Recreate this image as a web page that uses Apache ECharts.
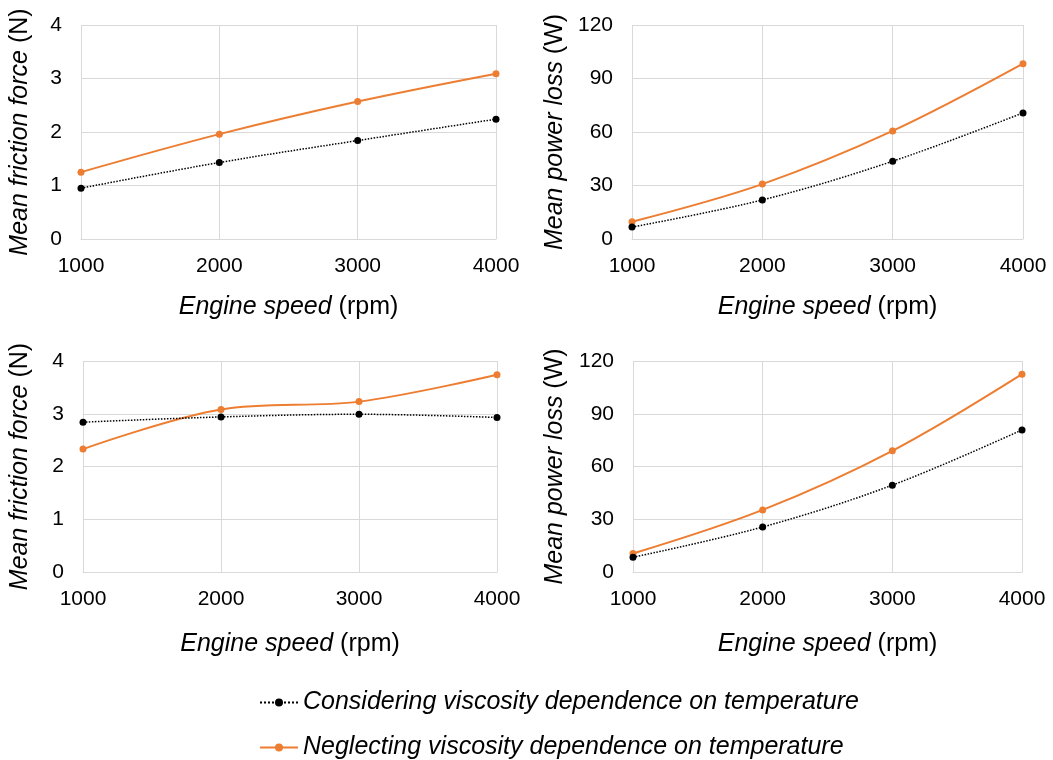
<!DOCTYPE html>
<html>
<head>
<meta charset="utf-8">
<script src="https://cdn.jsdelivr.net/npm/echarts@6/dist/echarts.min.js"></script>
<style>
  html, body { margin: 0; padding: 0; background: #fff; }
  #main { width: 1053px; height: 760px; }
</style>
</head>
<body>
<div id="main"></div>
<script>
var speeds = [1000, 2000, 3000, 4000];

// top row
var forceConsTop = [0.95, 1.43, 1.84, 2.24];
var forceNegTop = [1.25, 1.96, 2.57, 3.09];
var powerConsTop = [6.7, 21.9, 43.6, 70.7];
var powerNegTop = [9.7, 30.8, 60.6, 98.3];

// bottom row
var forceConsBot = [2.84, 2.94, 2.99, 2.93];
var forceNegBot = [2.33, 3.08, 3.23, 3.74];
var powerConsBot = [8.4, 25.6, 49.4, 80.8];
var powerNegBot = [10.5, 35.3, 68.9, 112.5];

var consName = 'Considering viscosity dependence on temperature';
var negName = 'Neglecting viscosity dependence on temperature';

var font = 'Liberation Sans, Arial, sans-serif';
var gridColor = '#d9d9d9';
var orange = '#ED7D31';

function pairs(ys) {
  return speeds.map(function (x, i) { return [x, ys[i]]; });
}

function plain(v) { return String(v); }

function xAxis(idx, gap) {
  return {
    type: 'value', gridIndex: idx, min: 1000, max: 4000, interval: 1000,
    name: '{i|Engine speed} (rpm)',
    nameLocation: 'middle', nameGap: gap,
    nameTextStyle: {
      fontFamily: font, fontSize: 25, color: '#000',
      rich: { i: { fontFamily: font, fontSize: 25, fontStyle: 'italic', color: '#000' } }
    },
    axisLine: { show: true, lineStyle: { color: gridColor } },
    axisTick: { show: false },
    axisLabel: { margin: 17, fontFamily: font, fontSize: 21, color: '#000', formatter: plain },
    splitLine: { show: true, lineStyle: { color: gridColor } }
  };
}

function yAxis(idx, max, interval, title, unit, gap) {
  return {
    type: 'value', gridIndex: idx, min: 0, max: max, interval: interval,
    name: '{i|' + title + '} ' + unit,
    nameLocation: 'middle', nameGap: gap,
    nameTextStyle: {
      fontFamily: font, fontSize: 25, color: '#000',
      rich: { i: { fontFamily: font, fontSize: 25, fontStyle: 'italic', color: '#000' } }
    },
    axisLine: { show: false },
    axisTick: { show: false },
    axisLabel: { margin: 19, fontFamily: font, fontSize: 21, color: '#000', formatter: plain },
    splitLine: { show: true, lineStyle: { color: gridColor } }
  };
}

function consSeries(idx, ys) {
  return {
    name: consName, type: 'line', xAxisIndex: idx, yAxisIndex: idx,
    data: pairs(ys), smooth: 0.35,
    symbol: 'circle', symbolSize: 7,
    itemStyle: { color: '#000' },
    lineStyle: { color: '#000', width: 1.5, type: 'dotted' },
    z: 3
  };
}

function negSeries(idx, ys) {
  return {
    name: negName, type: 'line', xAxisIndex: idx, yAxisIndex: idx,
    data: pairs(ys), smooth: 0.35,
    symbol: 'circle', symbolSize: 7,
    itemStyle: { color: orange },
    lineStyle: { color: orange, width: 2 },
    z: 2
  };
}

var legendText = { fontFamily: font, fontSize: 25, fontStyle: 'italic', color: '#000' };

var chart = echarts.init(document.getElementById('main'));
chart.setOption({
  animation: false,
  backgroundColor: '#fff',
  grid: [
    { left: 81, top: 25, width: 415, height: 214 },
    { left: 632, top: 25, width: 391, height: 214 },
    { left: 83, top: 361, width: 414, height: 211 },
    { left: 633, top: 361, width: 389, height: 211 }
  ],
  xAxis: [xAxis(0, 56), xAxis(1, 56), xAxis(2, 60), xAxis(3, 60)],
  yAxis: [
    yAxis(0, 4, 1, 'Mean friction force', '(N)', 48),
    yAxis(1, 120, 30, 'Mean power loss', '(W)', 64),
    yAxis(2, 4, 1, 'Mean friction force', '(N)', 50),
    yAxis(3, 120, 30, 'Mean power loss', '(W)', 65)
  ],
  legend: [
    {
      left: 254, top: 685, itemWidth: 38, itemHeight: 10, itemGap: 5,
      data: [consName], textStyle: legendText
    },
    {
      left: 254, top: 730, itemWidth: 38, itemHeight: 10, itemGap: 5,
      data: [negName], textStyle: legendText
    }
  ],
  series: [
    consSeries(0, forceConsTop), negSeries(0, forceNegTop),
    consSeries(1, powerConsTop), negSeries(1, powerNegTop),
    consSeries(2, forceConsBot), negSeries(2, forceNegBot),
    consSeries(3, powerConsBot), negSeries(3, powerNegBot)
  ]
});
</script>
</body>
</html>
